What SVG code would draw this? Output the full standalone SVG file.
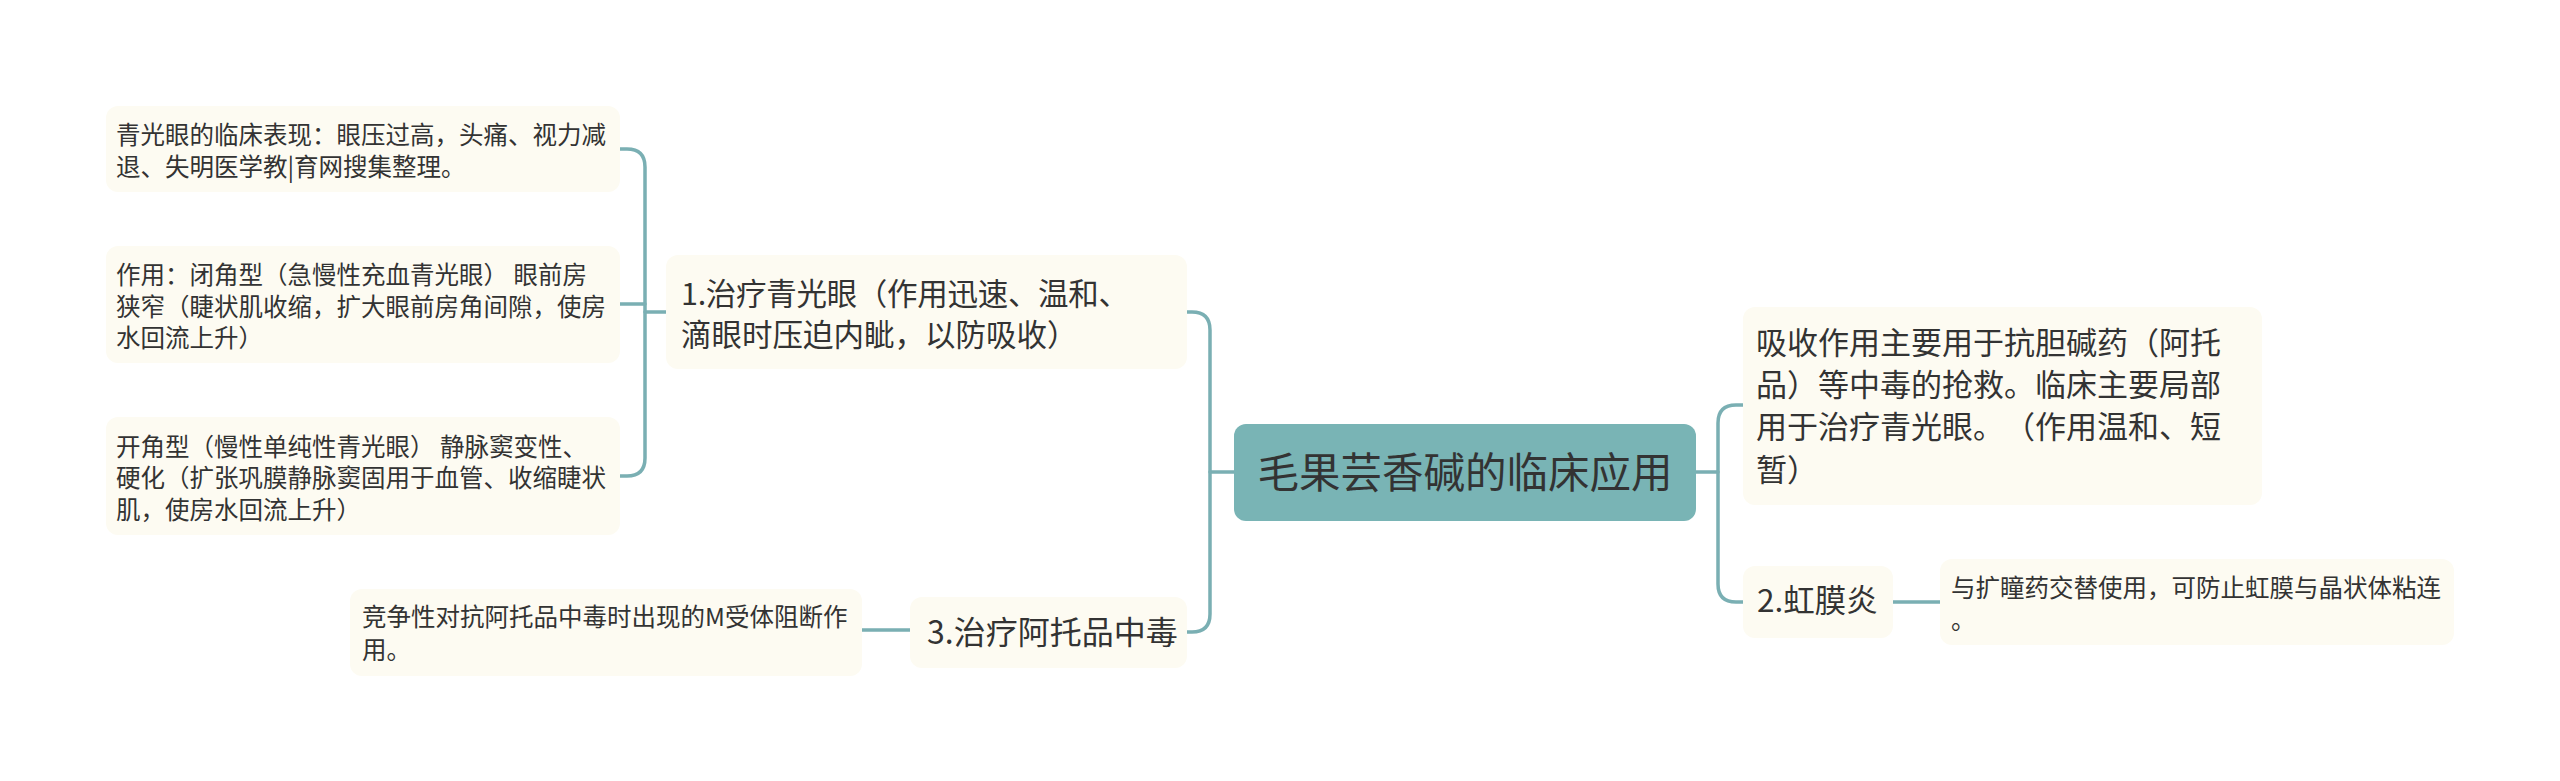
<svg xmlns="http://www.w3.org/2000/svg" width="2560" height="781" viewBox="0 0 2560 781">
<style>
.box{fill:#fdfbf2;}
.root{fill:#79b4b5;}
.t{font-family:"Noto Sans CJK SC","Noto Sans",sans-serif;fill:#333333;text-spacing-trim:space-all;}
.leaf{font-size:24.5px;}
.sub{font-size:30.5px;}
.line{fill:none;stroke:#7aafb3;stroke-width:3.5;stroke-linecap:round;stroke-linejoin:round;}
</style>
<rect width="2560" height="781" fill="#ffffff"/>
<g id="connectors">
<path class="line" d="M1234,472 H1210"/>
<path class="line" d="M1187,312 H1192 Q1210,312 1210,330 V614 Q1210,632 1192,632 H1187"/>
<path class="line" d="M666,312 H645"/>
<path class="line" d="M620,149 H627 Q645,149 645,167 V458 Q645,476 627,476 H620"/>
<path class="line" d="M620,304 H645"/>
<path class="line" d="M862,630 H910"/>
<path class="line" d="M1696,472 H1718"/>
<path class="line" d="M1743,405 H1736 Q1718,405 1718,423 V584 Q1718,602 1736,602 H1743"/>
<path class="line" d="M1893,602 H1940"/>
</g>
<g id="root">
<rect class="root" x="1234" y="424" width="462" height="97" rx="12"/>
<text class="t" x="1465" y="488" font-size="41.5" text-anchor="middle">毛果芸香碱的临床应用</text>
</g>
<g id="n1">
<rect class="box" x="666" y="255" width="521" height="114" rx="12"/>
<text class="t sub" x="681" y="305" textLength="448" lengthAdjust="spacing">1.治疗青光眼（作用迅速、温和、</text>
<text class="t sub" x="681" y="346">滴眼时压迫内眦，以防吸收）</text>
</g>
<g id="n1a">
<rect class="box" x="106" y="106" width="514" height="86" rx="12"/>
<text class="t leaf" x="116" y="144">青光眼的临床表现：眼压过高，头痛、视力减</text>
<text class="t leaf" x="116" y="176">退、失明医学教|育网搜集整理。</text>
</g>
<g id="n1b">
<rect class="box" x="106" y="246" width="514" height="117" rx="12"/>
<text class="t leaf" x="116" y="284">作用：闭角型（急慢性充血青光眼） 眼前房</text>
<text class="t leaf" x="116" y="316">狭窄（睫状肌收缩，扩大眼前房角间隙，使房</text>
<text class="t leaf" x="116" y="347">水回流上升）</text>
</g>
<g id="n1c">
<rect class="box" x="106" y="417" width="514" height="118" rx="12"/>
<text class="t leaf" x="116" y="456">开角型（慢性单纯性青光眼） 静脉窦变性、</text>
<text class="t leaf" x="116" y="487">硬化（扩张巩膜静脉窦固用于血管、收缩睫状</text>
<text class="t leaf" x="116" y="519">肌，使房水回流上升）</text>
</g>
<g id="n3">
<rect class="box" x="910" y="597" width="277" height="71" rx="12"/>
<text class="t" x="927" y="644" font-size="32">3.治疗阿托品中毒</text>
</g>
<g id="n3a">
<rect class="box" x="350" y="589" width="512" height="87" rx="12"/>
<text class="t leaf" x="362" y="626">竞争性对抗阿托品中毒时出现的M受体阻断作</text>
<text class="t leaf" x="362" y="659">用。</text>
</g>
<g id="r1">
<rect class="box" x="1743" y="307" width="519" height="198" rx="12"/>
<text class="t" x="1756" y="354" font-size="31">吸收作用主要用于抗胆碱药（阿托</text>
<text class="t" x="1756" y="396" font-size="31">品）等中毒的抢救。临床主要局部</text>
<text class="t" x="1756" y="438" font-size="31">用于治疗青光眼。（作用温和、短</text>
<text class="t" x="1756" y="481" font-size="31">暂）</text>
</g>
<g id="r2">
<rect class="box" x="1743" y="566" width="150" height="72" rx="12"/>
<text class="t" x="1757" y="612" font-size="31.5">2.虹膜炎</text>
</g>
<g id="r2a">
<rect class="box" x="1940" y="559" width="514" height="86" rx="12"/>
<text class="t leaf" x="1951" y="597">与扩瞳药交替使用，可防止虹膜与晶状体粘连</text>
<text class="t leaf" x="1951" y="629">。</text>
</g>
</svg>
